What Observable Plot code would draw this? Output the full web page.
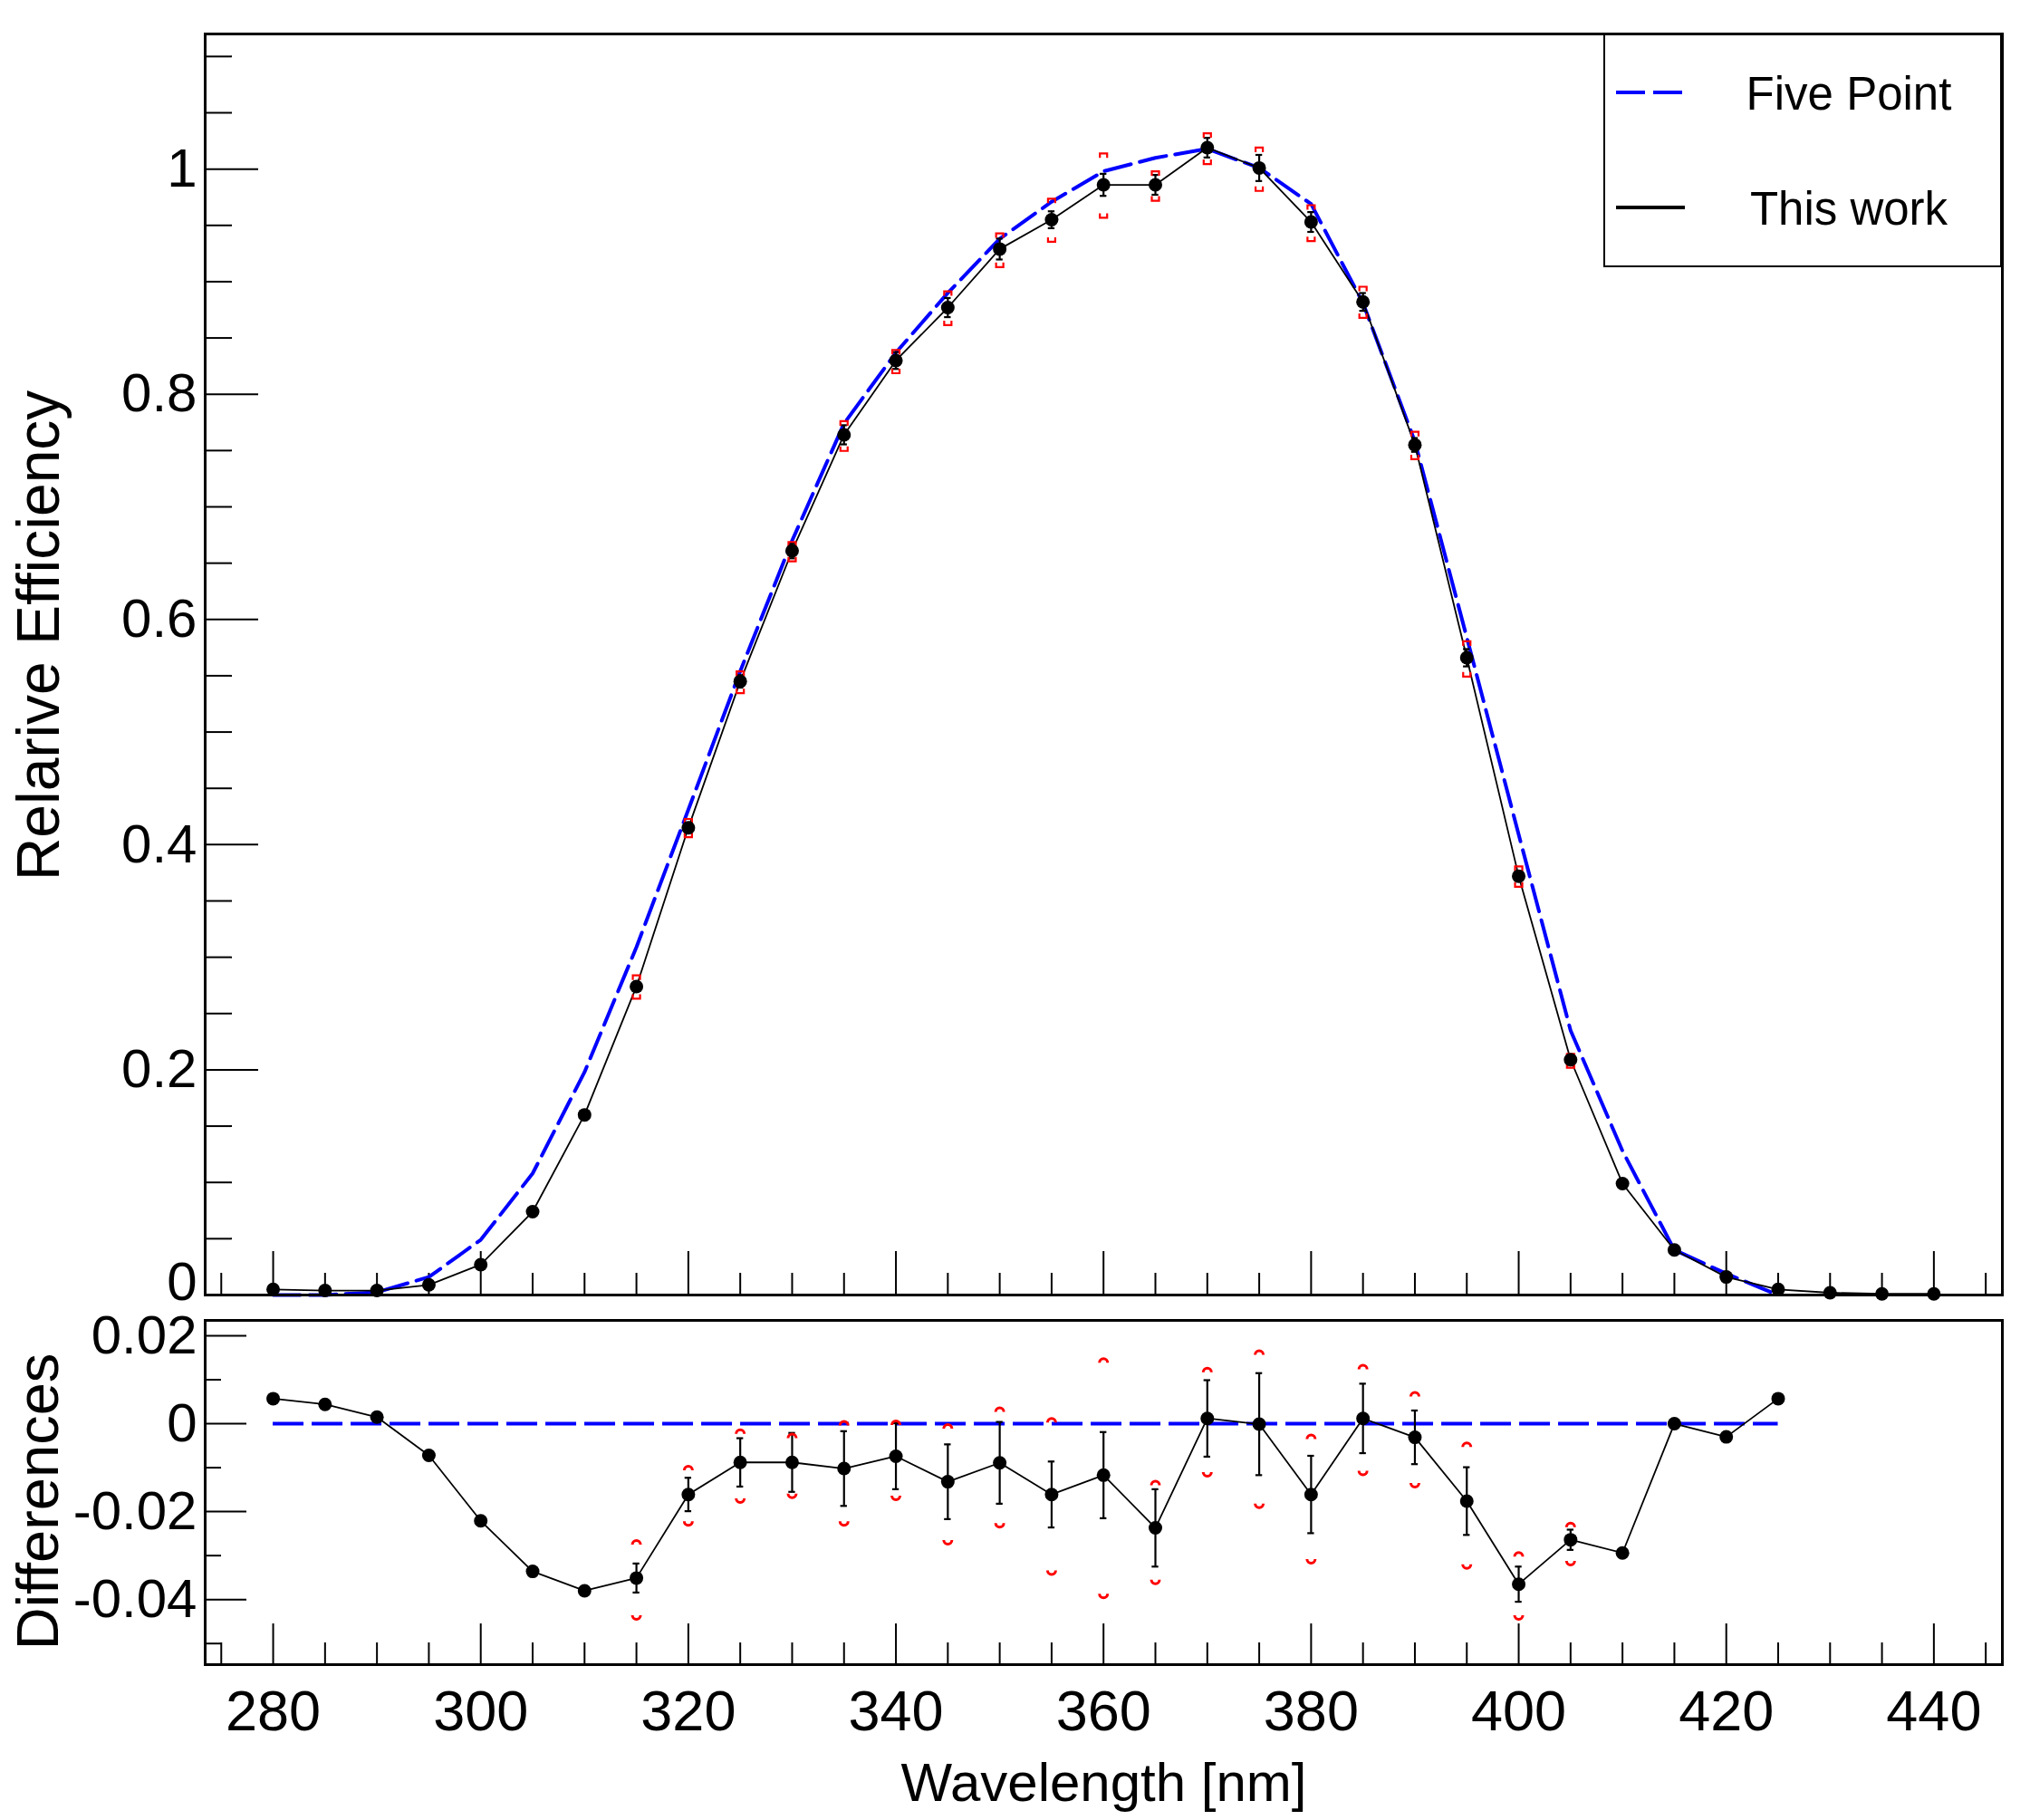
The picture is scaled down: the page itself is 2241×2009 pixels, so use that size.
<!DOCTYPE html>
<html>
<head>
<meta charset="utf-8">
<script src="https://cdn.jsdelivr.net/npm/d3@7"></script>
<script src="https://cdn.jsdelivr.net/npm/@observablehq/plot@0.6"></script>
<style>
  body { margin: 0; background: #fff; }
  #wrap { position: relative; width: 2241px; height: 2009px; background: #fff;
          font-family: "Liberation Sans", Arial, Helvetica, sans-serif; }
  #top { position: absolute; left: 0; top: 0; }
  #bot { position: absolute; left: 0; top: 1450px; }
  #legend { position: absolute; left: 1770px; top: 37px; width: 440px; height: 258px;
            border: 2px solid #000; box-sizing: border-box; background: #fff; }
  svg { display: block; overflow: visible; }
</style>
</head>
<body>
<div id="wrap">
  <div id="top"></div>
  <div id="bot"></div>
  <div id="legend"></div>
</div>
<script>
// ---------------- data ----------------
const wavelength = [280,285,290,295,300,305,310,315,320,325,330,335,340,345,350,355,360,365,370,375,380,385,390,395,400,405,410,415,420,425,430,435,440];
const thisWork   = [0.005,0.004,0.004,0.009,0.027,0.074,0.160,0.274,0.415,0.545,0.661,0.764,0.830,0.877,0.929,0.955,0.986,0.986,1.019,1.001,0.953,0.882,0.755,0.566,0.372,0.209,0.099,0.040,0.016,0.005,0.002,0.001,0.001];

const fivePointWavelength = [280,285,290,295,300,305,310,315,320,325,330,335,340,345,350,355,360,365,370,375,380,385,390,395,400,405,410,415,420,425];
const fivePoint  = [0.000,0.000,0.0025,0.016,0.049,0.108,0.198,0.309,0.431,0.554,0.670,0.774,0.837,0.890,0.938,0.971,0.998,1.010,1.018,1.001,0.969,0.881,0.758,0.584,0.409,0.235,0.128,0.040,0.019,0.000];
const differences = [0.0057,0.0044,0.0015,-0.0072,-0.0221,-0.0336,-0.0380,-0.0351,-0.0161,-0.0088,-0.0088,-0.0102,-0.0074,-0.0132,-0.0089,-0.0161,-0.0117,-0.0237,0.0012,-0.0001,-0.0161,0.0012,-0.0031,-0.0176,-0.0365,-0.0264,-0.0294,0.0000,-0.0030,0.0057];

const errWavelength = [315,320,325,330,335,340,345,350,355,360,365,370,375,380,385,390,395,400,405];
const statErr = [0.0033,0.0038,0.0055,0.0067,0.0085,0.0075,0.0085,0.0093,0.0075,0.0098,0.0088,0.0087,0.0116,0.0088,0.0079,0.0061,0.0077,0.0040,0.0023];
const sysUp   = [0.0079,0.0058,0.0068,0.0058,0.0101,0.0074,0.0124,0.0119,0.0167,0.0259,0.0100,0.0108,0.0161,0.0129,0.0115,0.0096,0.0126,0.0066,0.0032];
const sysDown = [0.0088,0.0064,0.0085,0.0074,0.0123,0.0093,0.0136,0.0140,0.0176,0.0273,0.0121,0.0125,0.0184,0.0150,0.0122,0.0107,0.0147,0.0074,0.0051];

// ticks and labels
const xMajorTicks = [280,300,320,340,360,380,400,420,440];
const xTickLabels = ["280","300","320","340","360","380","400","420","440"];
const xMinorTicks = [275,285,290,295,305,310,315,325,330,335,345,350,355,365,370,375,385,390,395,405,410,415,425,430,435,445];
const yTopMajor  = [0,0.2,0.4,0.6,0.8,1];
const yTopLabels = ["0","0.2","0.4","0.6","0.8","1"];
const yTopMinor  = [0.05,0.1,0.15,0.25,0.3,0.35,0.45,0.5,0.55,0.65,0.7,0.75,0.85,0.9,0.95,1.05,1.1];
const yBotMajor  = [0.02,0,-0.02,-0.04];
const yBotLabels = ["0.02","0","-0.02","-0.04"];
const yBotMinor  = [0.01,-0.01,-0.03,-0.05];

const legendLabels = ["Five Point","This work"];
const legendColors = ["#0000ff","#000000"];
const legendDash   = ["32,9", null];

// ---------------- derived tables ----------------
const topPts  = wavelength.map((w,i) => ({w, v: thisWork[i]}));
const fiveRows = fivePointWavelength.map((w,i) => ({w, v: fivePoint[i]}));
const diffRows = fivePointWavelength.map((w,i) => ({w, v: differences[i]}));
const errRows = errWavelength.map((w,i) => ({
  w,
  top: thisWork[wavelength.indexOf(w)],
  diff: differences[fivePointWavelength.indexOf(w)],
  stat: statErr[i], up: sysUp[i], down: sysDown[i]
}));

const FONT = '"Liberation Sans", Arial, Helvetica, sans-serif';
const W = 2241, ML = 226, MR = 31;
const frameW = W - ML - MR;
const xDomain = [273.45, 446.6];
const BLUE = "#0000ff";

// custom marker shapes
const bracketTop = { draw(c) { const w = 4, h = 5; c.moveTo(-w, h/2); c.lineTo(-w, -h/2); c.lineTo(w, -h/2); c.lineTo(w, h/2); } };
const bracketBot = { draw(c) { const w = 4, h = 5; c.moveTo(-w, -h/2); c.lineTo(-w, h/2); c.lineTo(w, h/2); c.lineTo(w, -h/2); } };
const arcTop = { draw(c) { const r = 4.5; c.moveTo(-r, 1.5); c.arc(0, 1.5, r, Math.PI, 0, false); } };
const arcBot = { draw(c) { const r = 4.5; c.moveTo(r, -1.5); c.arc(0, -1.5, r, 0, Math.PI, false); } };

function errorMarks(key, topSym, botSym, symStroke) {
  return [
    Plot.ruleX(errRows, {x: "w", y1: d => d[key] - d.stat, y2: d => d[key] + d.stat, stroke: "#000", strokeWidth: 2.2}),
    Plot.ruleY(errRows, {x1: d => d.w - 0.32, x2: d => d.w + 0.32, y: d => d[key] + d.stat, stroke: "#000", strokeWidth: 2.2}),
    Plot.ruleY(errRows, {x1: d => d.w - 0.32, x2: d => d.w + 0.32, y: d => d[key] - d.stat, stroke: "#000", strokeWidth: 2.2}),
    Plot.dot(errRows, {x: "w", y: d => d[key] + d.up, symbol: topSym, r: 5, stroke: "#ff0000", fill: "none", strokeWidth: symStroke}),
    Plot.dot(errRows, {x: "w", y: d => d[key] - d.down, symbol: botSym, r: 5, stroke: "#ff0000", fill: "none", strokeWidth: symStroke})
  ];
}

// ---------------- top panel ----------------
const topH = 1450, topMT = 37, topMB = 21;
const topFrameH = topH - topMT - topMB;
const topPlot = Plot.plot({
  width: W, height: topH,
  marginLeft: ML, marginRight: MR, marginTop: topMT, marginBottom: topMB,
  x: {domain: xDomain, axis: null},
  y: {domain: [0, 1.12], axis: null},
  style: {fontFamily: FONT, background: "#fff", color: "#000", overflow: "visible"},
  marks: [
    Plot.tickY(yTopMinor, {y: d => d, insetRight: frameW - 30, stroke: "#000", strokeWidth: 2}),
    Plot.tickY(yTopMajor, {y: d => d, insetRight: frameW - 59, stroke: "#000", strokeWidth: 2}),
    Plot.tickX(xMinorTicks, {x: d => d, insetTop: topFrameH - 24, stroke: "#000", strokeWidth: 2}),
    Plot.tickX(xMajorTicks, {x: d => d, insetTop: topFrameH - 48, stroke: "#000", strokeWidth: 2}),
    Plot.text(yTopMajor.slice(1), {y: d => d, text: (d, i) => yTopLabels[i + 1], frameAnchor: "left", textAnchor: "end", lineAnchor: "middle", dx: -9, fontSize: 60, fill: "#000"}),
    Plot.text(yTopMajor.slice(0, 1), {y: d => d, text: () => yTopLabels[0], frameAnchor: "left", textAnchor: "end", lineAnchor: "middle", dx: -9, dy: -14, fontSize: 60, fill: "#000"}),
    Plot.text(["Relarive Efficiency"], {text: d => d, frameAnchor: "left", textAnchor: "middle", lineAnchor: "middle", rotate: -90, dx: -183, dy: -32, fontSize: 66, fill: "#000"}),
    Plot.line(fiveRows, {x: "w", y: "v", stroke: BLUE, strokeWidth: 4, strokeDasharray: "30,10"}),
    Plot.line(topPts, {x: "w", y: "v", stroke: "#000", strokeWidth: 1.8}),
    ...errorMarks("top", bracketTop, bracketBot, 2.2),
    Plot.dot(topPts, {x: "w", y: "v", r: 7.5, fill: "#000", stroke: "none"}),
    Plot.frame({stroke: "#000", strokeWidth: 3})
  ]
});
document.getElementById("top").appendChild(topPlot);

// ---------------- bottom panel ----------------
const botH = 559, botMT = 7, botMB = 172;
const botFrameH = botH - botMT - botMB;
const botPlot = Plot.plot({
  width: W, height: botH,
  marginLeft: ML, marginRight: MR, marginTop: botMT, marginBottom: botMB,
  x: {domain: xDomain, axis: null},
  y: {domain: [-0.0548, 0.0235], axis: null},
  style: {fontFamily: FONT, background: "#fff", color: "#000", overflow: "visible"},
  marks: [
    Plot.tickY(yBotMinor, {y: d => d, insetRight: frameW - 18, stroke: "#000", strokeWidth: 2}),
    Plot.tickY(yBotMajor, {y: d => d, insetRight: frameW - 46, stroke: "#000", strokeWidth: 2}),
    Plot.tickX(xMinorTicks, {x: d => d, insetTop: botFrameH - 24, stroke: "#000", strokeWidth: 2}),
    Plot.tickX(xMajorTicks, {x: d => d, insetTop: botFrameH - 45, stroke: "#000", strokeWidth: 2}),
    Plot.text(yBotMajor, {y: d => d, text: (d, i) => yBotLabels[i], frameAnchor: "left", textAnchor: "end", lineAnchor: "middle", dx: -9, fontSize: 60, fill: "#000"}),
    Plot.text(xMajorTicks, {x: d => d, text: (d, i) => xTickLabels[i], frameAnchor: "bottom", textAnchor: "middle", lineAnchor: "middle", dy: 52, fontSize: 63, fill: "#000"}),
    Plot.text(["Wavelength [nm]"], {text: d => d, frameAnchor: "bottom", textAnchor: "middle", lineAnchor: "middle", dy: 131, fontSize: 60, fill: "#000"}),
    Plot.text(["Differences"], {text: d => d, frameAnchor: "left", textAnchor: "middle", lineAnchor: "middle", rotate: -90, dx: -183, dy: 10, fontSize: 65, fill: "#000"}),
    Plot.ruleY([0], {x1: fivePointWavelength[0], x2: fivePointWavelength[fivePointWavelength.length - 1], stroke: BLUE, strokeWidth: 4, strokeDasharray: "34,9"}),
    Plot.line(diffRows, {x: "w", y: "v", stroke: "#000", strokeWidth: 1.8}),
    ...errorMarks("diff", arcTop, arcBot, 3),
    Plot.dot(diffRows, {x: "w", y: "v", r: 7.5, fill: "#000", stroke: "none"}),
    Plot.frame({stroke: "#000", strokeWidth: 3})
  ]
});
document.getElementById("bot").appendChild(botPlot);

// ---------------- legend ----------------
const lg = d3.select("#legend").append("svg").attr("width", 436).attr("height", 254)
  .style("font-family", FONT);
const rowY = [63, 190];
legendLabels.forEach((lab, i) => {
  const l = lg.append("line").attr("x1", 12).attr("x2", 88).attr("y1", rowY[i]).attr("y2", rowY[i])
    .attr("stroke", legendColors[i]).attr("stroke-width", 4);
  if (legendDash[i]) l.attr("stroke-dasharray", legendDash[i]);
  lg.append("text").attr("x", 269).attr("y", rowY[i] + 19).attr("text-anchor", "middle")
    .attr("font-size", 51).attr("fill", "#000").text(lab);
});
</script>
</body>
</html>
